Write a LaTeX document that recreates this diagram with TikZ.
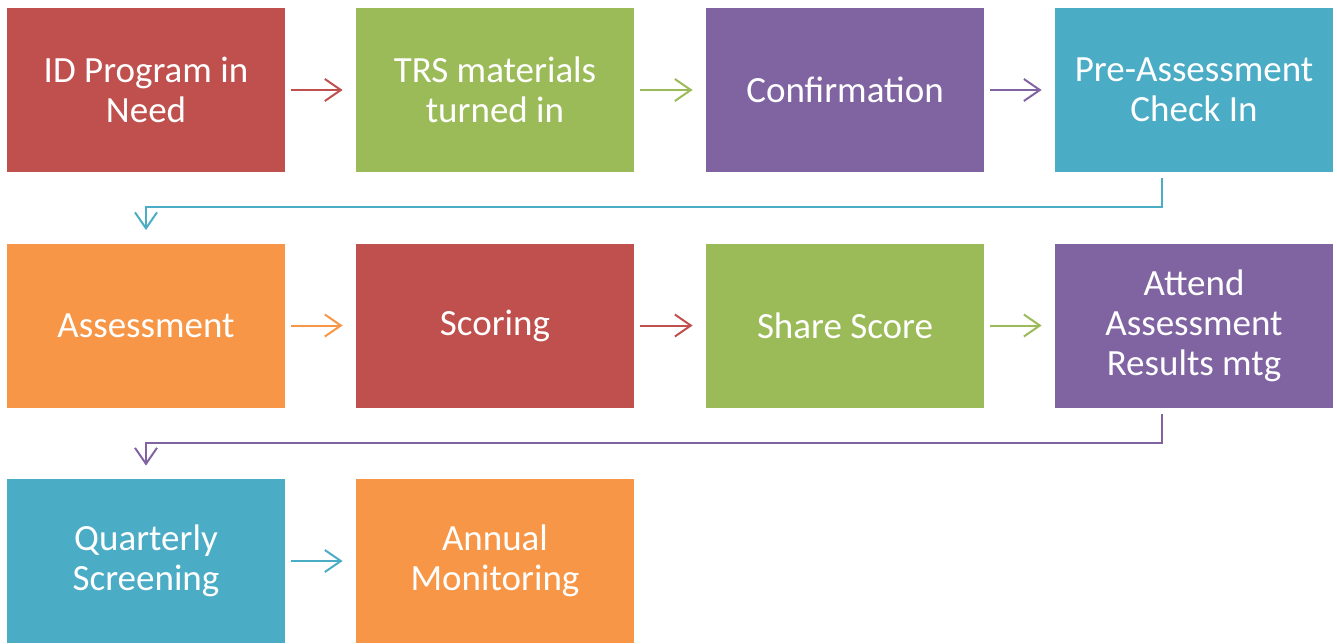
\documentclass[tikz,border=0pt]{standalone}
\usepackage{fontspec}
\setmainfont{Carlito}
\usetikzlibrary{arrows.meta}
\definecolor{boxred}{HTML}{C0504D}
\definecolor{boxgreen}{HTML}{9BBB59}
\definecolor{boxpurple}{HTML}{8064A2}
\definecolor{boxaqua}{HTML}{4BACC6}
\definecolor{boxorange}{HTML}{F79646}
\tikzset{
  stepbox/.style={fill=#1, draw=none, text=white, minimum width=139pt, minimum height=82pt,
    inner sep=0pt, align=center, font=\fontsize{18.5}{20}\selectfont},
  flow/.style={draw=#1, line width=1pt, -{Straight Barb[length=8pt,width=11pt]},
    shorten <=3pt, shorten >=6.5pt}
}
\begin{document}
\begin{tikzpicture}[x=0.5pt, y=-0.5pt]
      \useasboundingbox (0,0) rectangle (1337,643);
      \node[stepbox=boxred] (idp) at (146, 90) {ID Program in\\Need};
      \node[stepbox=boxgreen] (trs) at (495, 90) {TRS materials\\turned in};
      \node[stepbox=boxpurple] (conf) at (845, 90) {Confirmation};
      \node[stepbox=boxaqua] (pre) at (1194, 90) {Pre-Assessment\\Check In};
      \node[stepbox=boxorange] (assess) at (146, 325.5) {Assessment};
      \node[stepbox=boxred] (scoring) at (495, 325.5) {Scoring};
      \node[stepbox=boxgreen] (share) at (845, 325.5) {Share Score};
      \node[stepbox=boxpurple] (attend) at (1194, 325.5) {Attend\\Assessment\\Results mtg};
      \node[stepbox=boxaqua] (quarterly) at (146, 561) {Quarterly\\Screening};
      \node[stepbox=boxorange] (annual) at (495, 561) {Annual\\Monitoring};
      \draw[flow=boxred] (idp) to (trs);
      \draw[flow=boxgreen] (trs) to (conf);
      \draw[flow=boxpurple] (conf) to (pre);
      \draw[flow=boxaqua] ([xshift=-16pt]pre.south) -- ++(0, 35) -| (assess.north);
      \draw[flow=boxorange] (assess) to (scoring);
      \draw[flow=boxred] (scoring) to (share);
      \draw[flow=boxgreen] (share) to (attend);
      \draw[flow=boxpurple] ([xshift=-16pt]attend.south) -- ++(0, 35) -| (quarterly.north);
      \draw[flow=boxaqua] (quarterly) to (annual);
    \end{tikzpicture}
\end{document}
